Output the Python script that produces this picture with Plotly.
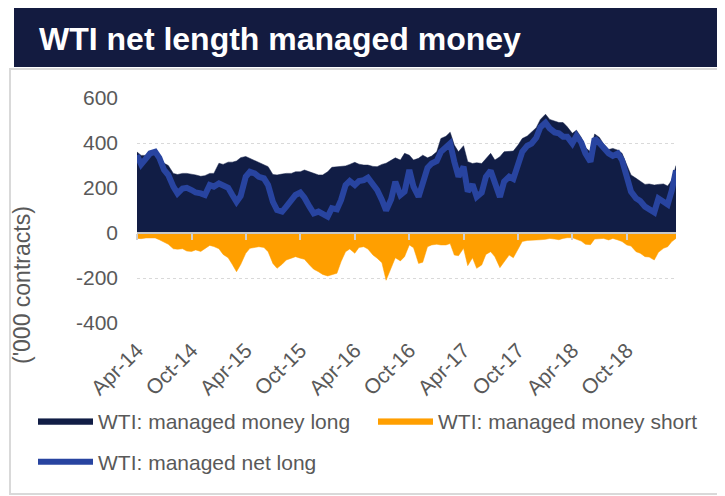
import pandas as pd
import plotly.graph_objects as go

# semi-monthly observations, Apr-2014 .. Mar-2019 ('000 contracts)
dates = pd.date_range("2014-04-01", periods=120, freq="SMS")

mm_long = [360, 345, 345, 355, 365, 345, 310, 300, 265, 260, 265, 265, 262, 258, 252, 255, 265, 265, 310, 305, 315, 315, 320, 335, 340,
           332, 321, 314, 306, 295, 260, 258, 262, 265, 265, 272, 272, 280, 272, 265, 258, 258, 272, 292, 295, 295, 298, 305, 314,
           306, 302, 302, 296, 295, 305, 310, 325, 334, 324, 354, 346, 324, 332, 346, 334, 342, 361, 420, 430, 448, 391, 361, 388,
           317, 309, 312, 309, 332, 354, 324, 339, 361, 361, 364, 391, 420, 431, 447, 468, 505, 528, 505, 497, 491, 491, 472, 443,
           457, 425, 379, 361, 440, 425, 395, 371, 376, 368, 354, 302, 258, 243, 231, 216, 218, 213, 216, 218, 209, 235, 300]

mm_short = [-24, -25, -22, -22, -22, -30, -40, -50, -70, -72, -70, -80, -82, -75, -82, -68, -55, -60, -70, -95, -110, -140, -172, -140, -90,
            -68, -64, -61, -64, -83, -135, -157, -139, -120, -112, -105, -112, -117, -142, -161, -172, -184, -191, -186, -179, -127, -83, -71, -90,
            -64, -61, -71, -98, -112, -132, -210, -150, -110, -124, -105, -53, -65, -135, -130, -61, -53, -50, -53, -53, -47, -98, -101, -68,
            -145, -110, -157, -142, -95, -83, -105, -154, -127, -98, -110, -71, -38, -33, -33, -31, -30, -28, -24, -27, -30, -24, -21, -21,
            -27, -36, -50, -52, -27, -24, -24, -31, -24, -31, -38, -53, -58, -83, -90, -105, -107, -120, -86, -68, -61, -38, -24]

net_long = [346, 305, 331, 354, 361, 334, 280, 258, 206, 176, 198, 201, 191, 180, 176, 169, 213, 206, 220, 213, 201, 169, 139, 165, 250,
            272, 265, 250, 243, 213, 139, 102, 95, 117, 151, 169, 180, 157, 117, 87, 95, 87, 73, 110, 105, 147, 213, 231, 213,
            231, 235, 246, 218, 191, 147, 100, 150, 228, 169, 184, 280, 206, 161, 215, 290, 309, 320, 361, 385, 398, 317, 250, 295,
            184, 216, 161, 180, 250, 277, 231, 160, 228, 250, 240, 302, 361, 388, 397, 423, 470, 490, 465, 447, 443, 428, 428, 398,
            432, 403, 354, 317, 420, 400, 375, 354, 343, 354, 324, 257, 184, 154, 142, 117, 102, 92, 154, 139, 127, 190, 278]

tick_dates = pd.date_range("2014-04-01", "2018-10-01", freq="6MS")
tick_labels = ["Apr-14", "Oct-14", "Apr-15", "Oct-15", "Apr-16",
               "Oct-16", "Apr-17", "Oct-17", "Apr-18", "Oct-18"]
y_ticks = [-400, -200, 0, 200, 400, 600]
y_labels = ["-400", "-200", "0", "200", "400", "600"]

# the page body adds an 8px margin, so lay out in page pixels minus that
OFF = 8
W, H = 725 - OFF, 496 - OFF
L, T = 137 - OFF, 98 - OFF
R, B = W - (676 - OFF), H - (323 - OFF)
pw, ph = W - L - R, H - T - B

def px_x(px):
    return (px - OFF - L) / pw

def px_y(py):
    return (H - B - (py - OFF)) / ph

navy = "#111d45"
orange = "#ff9f00"
blue = "#2844a0"
grey = "#595959"
font = "Arial, Liberation Sans, sans-serif"

fig = go.Figure()
fig.add_trace(go.Scatter(x=dates, y=mm_long, name="WTI: managed money long", fill="tozeroy",
                         mode="lines", line=dict(color=navy, width=0.5), fillcolor=navy, legend="legend"))
fig.add_trace(go.Scatter(x=dates, y=mm_short, name="WTI: managed money short", fill="tozeroy",
                         mode="lines", line=dict(color=orange, width=0.5), fillcolor=orange, legend="legend2"))
fig.add_trace(go.Scatter(x=dates, y=net_long, name="WTI: managed net long", mode="lines",
                         line=dict(color=blue, width=6), legend="legend3"))
# holder so the zero-line axis gets drawn
fig.add_trace(go.Scatter(x=[dates[0]], y=[None], xaxis="x2", showlegend=False, hoverinfo="skip"))


def legend_at(px, py):
    return dict(orientation="h", xref="container", yref="container",
                x=(px - OFF) / W, y=1 - (py - OFF) / H, xanchor="left", yanchor="middle",
                itemwidth=55, font=dict(size=21, color=grey), bgcolor="rgba(0,0,0,0)")


rng = [dates[0], dates[-1]]
fig.update_layout(
    width=W, height=H,
    margin=dict(l=L, r=R, t=T, b=B, autoexpand=False),
    paper_bgcolor="white", plot_bgcolor="white",
    font=dict(family=font, size=21, color=grey),
    xaxis=dict(range=rng, tickvals=tick_dates, ticktext=tick_labels, tickangle=-45,
               showgrid=False, showline=False, zeroline=False, ticks="", automargin=False,
               ticklabelstandoff=10, tickfont=dict(size=21, color=grey)),
    xaxis2=dict(range=rng, overlaying="x", anchor="free", position=0.4, side="bottom",
                tickvals=tick_dates, showticklabels=False, showgrid=False, zeroline=False,
                showline=True, linecolor="#c8c8c8", linewidth=2, ticks="outside",
                ticklen=6, tickwidth=2, tickcolor="#d0d0d0", layer="above traces"),
    yaxis=dict(range=[-400, 600], tickvals=y_ticks, ticktext=y_labels,
               showgrid=True, gridcolor="#d9d9d9", griddash="dot", gridwidth=1,
               zeroline=False, showline=False, ticklabelstandoff=18, automargin=False,
               tickfont=dict(size=21, color=grey)),
    legend=legend_at(33, 421),
    legend2=legend_at(373, 421),
    legend3=legend_at(33, 462),
    showlegend=True,
    shapes=[
        dict(type="rect", xref="paper", yref="paper", x0=px_x(10), x1=px_x(722),
             y0=px_y(494), y1=px_y(69), line=dict(color="#d9d9d9", width=2), layer="below"),
        dict(type="rect", xref="paper", yref="paper", x0=px_x(14), x1=px_x(718),
             y0=px_y(67), y1=px_y(4), line=dict(width=0), fillcolor="#131b40"),
    ],
    annotations=[
        dict(text="<b>WTI net length managed money</b>", xref="paper", yref="paper",
             x=px_x(37), y=px_y(39), xanchor="left", yanchor="middle", showarrow=False,
             font=dict(family=font, size=32, color="white")),
        dict(text="('000 contracts)", xref="paper", yref="paper", textangle=-90,
             x=px_x(22), y=px_y(285), xanchor="center", yanchor="middle", showarrow=False,
             font=dict(family=font, size=23, color=grey)),
    ],
)

fig.write_html("out.html")
